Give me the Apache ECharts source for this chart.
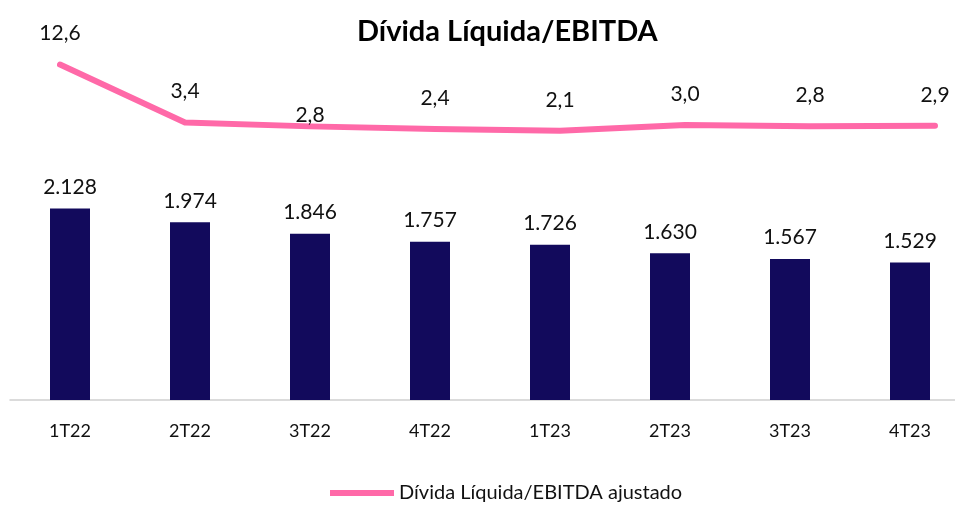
<!DOCTYPE html>
<html>
<head>
<meta charset="utf-8">
<script src="https://cdn.jsdelivr.net/npm/echarts@6/dist/echarts.min.js"></script>
<style>
  html, body { margin: 0; padding: 0; background: #fff; }
  #chart { width: 955px; height: 505px; }
</style>
</head>
<body>
<div id="chart"></div>
<script>
// dados do gráfico
const quarters = ['1T22', '2T22', '3T22', '4T22', '1T23', '2T23', '3T23', '4T23']
const dividaLiquida = [2128, 1974, 1846, 1757, 1726, 1630, 1567, 1529]
const alavancagem = [12.6, 3.4, 2.8, 2.4, 2.1, 3.0, 2.8, 2.9]
// distância do rótulo da linha (só o 3T22 fica colado na linha)
const lineLabelDistance = [20, 20, 0, 20, 20, 20, 20, 20]

const fontFam = 'Lato, "Open Sans", sans-serif'
const fmtBR = (v, d) => v.toLocaleString('pt-BR', { minimumFractionDigits: d, maximumFractionDigits: d })

const chart = echarts.init(document.getElementById('chart'))
chart.setOption({
  animation: false,
  textStyle: { fontFamily: fontFam },
  title: {
    text: 'Dívida Líquida/EBITDA',
    left: 352,
    top: 12,
    textStyle: { fontSize: 29, fontWeight: 'bold', color: '#000', fontFamily: fontFam }
  },
  legend: {
    bottom: -3,
    left: 325,
    data: [{ name: 'Dívida Líquida/EBITDA ajustado', icon: 'rect' }],
    itemWidth: 64,
    itemHeight: 6,
    itemGap: 8,
    textStyle: { fontSize: 20, color: '#111', fontFamily: fontFam }
  },
  // grid das barras e grid da linha (no Excel a linha fica num eixo próprio, mais largo)
  grid: [
    { top: 40, bottom: 105, left: 10, width: 960, outerBoundsMode: 'none' },
    { top: 40, bottom: 105, left: 60, width: 875, outerBoundsMode: 'none' }
  ],
  xAxis: [
    {
      type: 'category',
      gridIndex: 0,
      data: quarters,
      axisLine: { lineStyle: { color: '#d0d0d0', width: 1.5 } },
      axisTick: { show: false },
      axisLabel: { fontSize: 18, color: '#111', margin: 22 }
    },
    {
      type: 'category',
      gridIndex: 1,
      data: quarters,
      boundaryGap: false,
      show: false
    }
  ],
  yAxis: [
    { type: 'value', gridIndex: 0, min: 0, max: 4000, show: false },
    { type: 'value', gridIndex: 1, min: -40.6, max: 16.5, show: false }
  ],
  series: [
    {
      name: 'Dívida Líquida',
      type: 'bar',
      xAxisIndex: 0,
      yAxisIndex: 0,
      barWidth: 40,
      data: dividaLiquida,
      itemStyle: { color: '#120A5C' },
      label: {
        show: true,
        position: 'top',
        distance: 11,
        fontSize: 21,
        color: '#111',
        formatter: p => fmtBR(p.value, 0)
      }
    },
    {
      name: 'Dívida Líquida/EBITDA ajustado',
      type: 'line',
      xAxisIndex: 1,
      yAxisIndex: 1,
      data: alavancagem.map((v, i) => ({ value: v, label: { distance: lineLabelDistance[i] } })),
      symbol: 'circle',
      symbolSize: 1,
      showSymbol: true,
      lineStyle: { color: '#FF69A8', width: 6, cap: 'round', join: 'round' },
      itemStyle: { color: '#FF69A8' },
      label: {
        show: true,
        position: 'top',
        fontSize: 21,
        color: '#111',
        formatter: p => fmtBR(p.value, 1)
      }
    }
  ]
})
</script>
</body>
</html>
